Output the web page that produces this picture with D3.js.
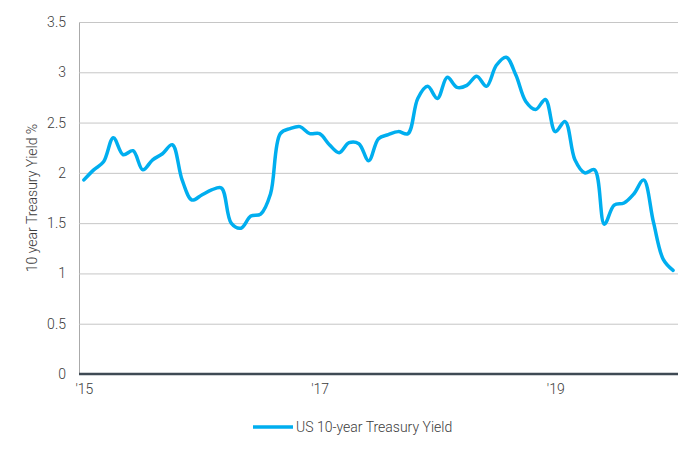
<!DOCTYPE html>
<html>
<head>
<meta charset="utf-8">
<script src="https://cdn.jsdelivr.net/npm/d3@7"></script>
<style>
  body { margin: 0; background: #fff; }
  text { font-family: Roboto, "Liberation Sans", sans-serif; font-weight: 300; fill: #3c3c3c; }
</style>
</head>
<body>
<div class="container"></div>
<script>
// monthly readings, Jan 2015 .. Jan 2020
const months = d3.timeMonth.range(new Date(2015, 0, 1), new Date(2020, 1, 1)).map(d3.timeFormat('%Y-%m'))
const yields = [
  1.93, 2.03, 2.11, 2.35, 2.18, 2.22, 2.03, 2.13, 2.19, 2.28, 1.93, 1.73,
  1.78, 1.83, 1.85, 1.50, 1.45, 1.57, 1.59, 1.79, 2.39, 2.44, 2.46, 2.39,
  2.39, 2.28, 2.20, 2.30, 2.29, 2.12, 2.34, 2.38, 2.41, 2.39, 2.74, 2.86,
  2.74, 2.95, 2.85, 2.87, 2.96, 2.86, 3.07, 3.15, 2.97, 2.71, 2.63, 2.73,
  2.41, 2.51, 2.13, 2.00, 2.03, 1.49, 1.68, 1.70, 1.79, 1.93, 1.51, 1.14,
  1.03
]
const tickMonths = ['2015-01', '2017-01', '2019-01']
const tickLabels = ["'15", "'17", "'19"]
const yTicks = [0, 0.5, 1, 1.5, 2, 2.5, 3, 3.5]

const width = 700
const height = 453
const plot = {left: 79, right: 678, top: 22, bottom: 374}

const svg = d3.select('.container')
    .append('svg')
    .attr('width', width)
    .attr('height', height)

const x = d3.scalePoint().domain(months).range([plot.left, plot.right]).padding(0.5)
const y = d3.scaleLinear().domain([0, 3.5]).range([plot.bottom, plot.top])

// gridlines + y labels
const yAxis = svg.append('g')
    .attr('transform', `translate(${plot.left},0)`)
    .call(d3.axisLeft(y).tickValues(yTicks).tickSize(-(plot.right - plot.left)).tickPadding(13)
        .tickFormat(d => d))
yAxis.select('.domain').attr('stroke', '#aaa')
yAxis.selectAll('.tick line').attr('stroke', '#c6c6c6')
yAxis.selectAll('.tick text').style('font-size', '14px')

// bottom axis
const xAxis = svg.append('g')
    .attr('transform', `translate(0,${plot.bottom})`)
    .call(d3.axisBottom(x).tickValues(tickMonths).tickSize(0).tickPadding(10)
        .tickFormat((d, i) => tickLabels[i]))
xAxis.select('.domain').attr('d', `M${plot.left},0H${plot.right}`).attr('stroke', '#3f4a54').attr('stroke-width', 2.5)
xAxis.selectAll('.tick text').style('font-size', '14px')

svg.append('text')
    .attr('transform', `translate(37,198) rotate(-90)`)
    .attr('text-anchor', 'middle')
    .style('font-size', '14px')
    .text('10 year Treasury Yield %')

const line = d3.line()
    .x((d, i) => x(months[i]))
    .y(d => y(d))
    .curve(d3.curveCatmullRom.alpha(0.5))

svg.append('path')
    .datum(yields)
    .attr('fill', 'none')
    .attr('stroke', '#00aeef')
    .attr('stroke-width', 3.5)
    .attr('stroke-linecap', 'round')
    .attr('stroke-linejoin', 'round')
    .attr('d', line)

// legend
const legend = svg.append('g').attr('transform', 'translate(253,427)')
legend.append('line')
    .attr('x1', 0).attr('x2', 40)
    .attr('stroke', '#00aeef').attr('stroke-width', 3.5)
legend.append('text')
    .attr('x', 43).attr('dy', '0.35em')
    .style('font-size', '14px')
    .text('US 10-year Treasury Yield')
</script>
</body>
</html>
